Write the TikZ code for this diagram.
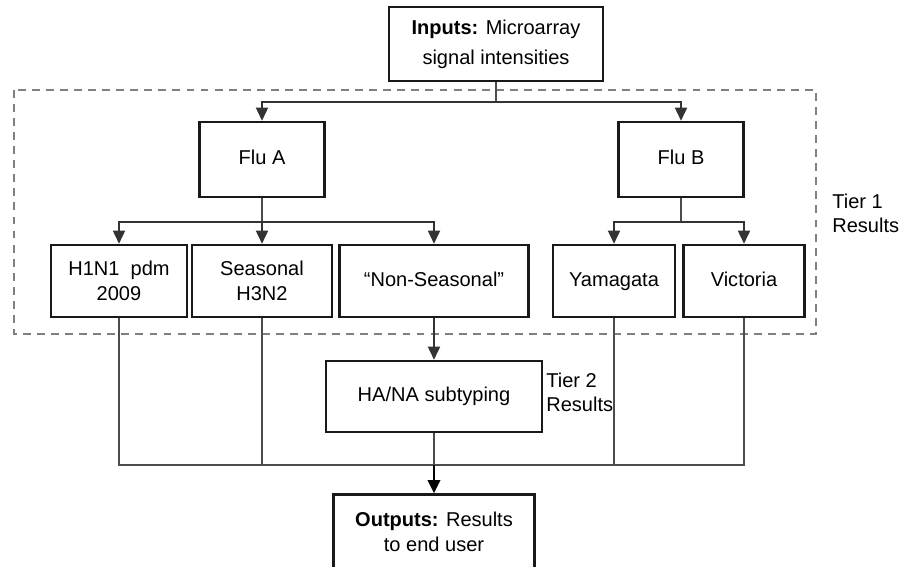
\documentclass[tikz,border=0pt]{standalone}
\usepackage{fontspec}
\setmainfont{Liberation Sans}
\usetikzlibrary{arrows.meta, positioning}
\tikzset{
    stage/.style={
        rectangle,
        draw=black!90,
        line width=1.5pt,
        align=center,
        inner sep=2pt,
        font=\fontsize{11.4}{14}\selectfont
    },
    oneline/.style={
        text height=1.6ex,
        text depth=0.45ex
    },
    link/.style={
        draw=black!70,
        line width=0.7pt
    },
    linkarrow/.style={
        draw=black!80,
        line width=0.7pt,
        -{Triangle[width=7pt,length=7.5pt]}
    },
    outarrow/.style={
        draw=black,
        line width=1.4pt,
        -{Triangle[width=7pt,length=7.5pt]}
    },
    tierbox/.style={
        draw=black!50,
        line width=0.9pt,
        dash pattern=on 4.5pt off 3.5pt
    },
    tierlabel/.style={
        align=left,
        inner sep=0pt,
        font=\fontsize{11.4}{13.5}\selectfont
    }
}

\begin{document}
\begin{tikzpicture}[x=0.02cm, y=-0.02cm]
\clip (0,0) rectangle (911,566);

% Tier 1 frame
\draw[tierbox] (14,90) rectangle (816,334);

% Input
\node[stage, minimum width=4.28cm, minimum height=1.48cm] (inputs) at (496,44) {\textbf{Inputs:} Microarray\\[3pt]signal intensities};

% Flu types
\node[stage, oneline, minimum width=2.5cm, minimum height=1.5cm] (flua) at (262,159.5) {Flu A};
\node[stage, oneline, minimum width=2.5cm, minimum height=1.5cm] (flub) at (681,159.5) {Flu B};

% Tier 1 results
\node[stage, minimum width=2.72cm, minimum height=1.44cm] (h1n1) at (119,281) {H1N1~~pdm\\2009};
\node[stage, minimum width=2.8cm, minimum height=1.44cm] (seasonal) at (262,281) {Seasonal\\H3N2};
\node[stage, oneline, minimum width=3.78cm, minimum height=1.44cm] (nonseasonal) at (434,281) {``Non-Seasonal''};
\node[stage, oneline, minimum width=2.44cm, minimum height=1.44cm] (yamagata) at (614,281) {Yamagata};
\node[stage, oneline, minimum width=2.42cm, minimum height=1.44cm] (victoria) at (744,281) {Victoria};

\node[tierlabel, anchor=north west] (tier1) at (832,194) {Tier 1\\Results};

% Tier 2
\node[stage, oneline, minimum width=4.32cm, minimum height=1.42cm] (hana) at (434,396.5) {HA/NA subtyping};
\node[tierlabel, anchor=north west] (tier2) at (546,373) {Tier 2\\Results};

% Output
\node[stage, minimum width=4.02cm, minimum height=1.5cm] (outputs) at (434,532) {\textbf{Outputs:} Results\\to end user};

% Junctions
\coordinate (splitin) at (496,102);
\coordinate (splita) at (262,222);
\coordinate (splitb) at (681,222);
\coordinate (merge) at (434,465);

% Connections
\draw[link] (inputs.south) -- (splitin);
\draw[linkarrow] (splitin) -| (flua.north);
\draw[linkarrow] (splitin) -| (flub.north);

\draw[link] (flua.south) -- (splita);
\draw[linkarrow] (splita) -| (h1n1.north);
\draw[linkarrow] (splita) -- (seasonal.north);
\draw[linkarrow] (splita) -| (nonseasonal.north);

\draw[link] (flub.south) -- (splitb);
\draw[linkarrow] (splitb) -| (yamagata.north);
\draw[linkarrow] (splitb) -| (victoria.north);

\draw[linkarrow] (nonseasonal.south) -- (hana.north);

\draw[link] (h1n1.south) |- (merge);
\draw[link] (victoria.south) |- (merge);
\draw[link] (seasonal.south) -- (seasonal.south |- merge);
\draw[link] (yamagata.south) -- (yamagata.south |- merge);
\draw[link] (hana.south) -- (merge);
\draw[outarrow] (merge) -- (outputs.north);

\end{tikzpicture}
\end{document}
